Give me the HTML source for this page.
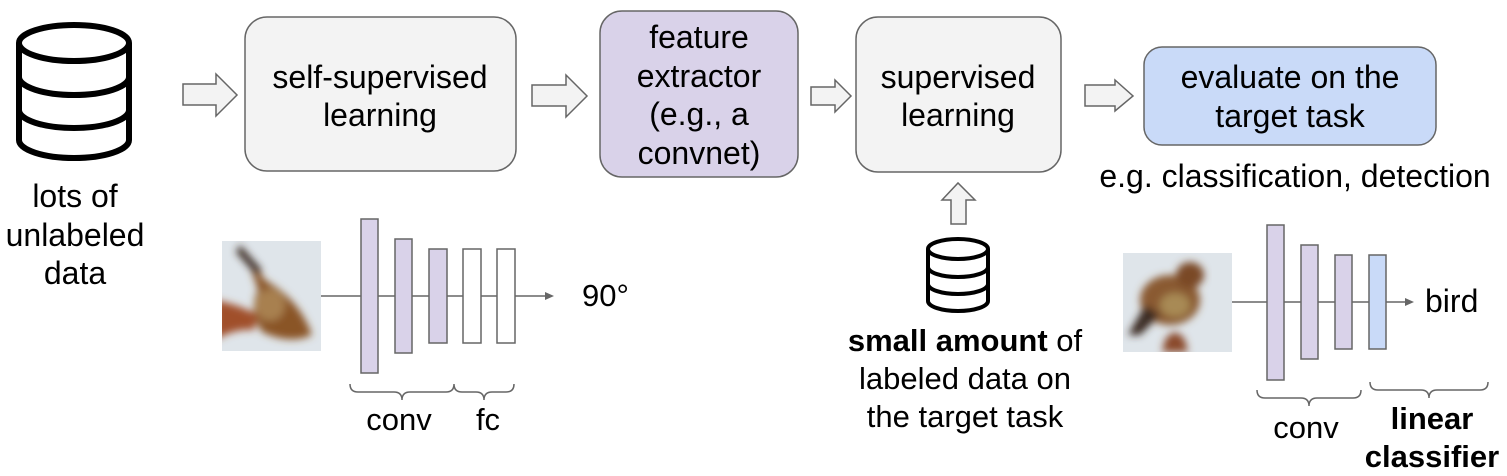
<!DOCTYPE html>
<html><head><meta charset="utf-8"><style>
html,body{margin:0;padding:0;background:#fff}
svg{display:block}
text{font-family:"Liberation Sans",Arial,sans-serif;fill:#000}
</style></head><body>
<svg width="1507" height="476" viewBox="0 0 1507 476" xmlns="http://www.w3.org/2000/svg">
<defs>
<filter id="bl" x="-10%" y="-10%" width="120%" height="120%"><feGaussianBlur stdDeviation="4"/></filter>
<clipPath id="c1"><rect x="222" y="241" width="99" height="110"/></clipPath>
<clipPath id="c2"><rect x="1123" y="253" width="109" height="99"/></clipPath>
</defs>
<!-- big cylinder -->
<g fill="none" stroke="#000" stroke-width="6">
<ellipse cx="74" cy="43" rx="55" ry="18"/>
<path d="M19 43 V140 A55 18 0 0 0 129 140 V43"/>
<path d="M19 77 A55 18 0 0 0 129 77"/>
<path d="M19 110 A55 18 0 0 0 129 110"/>
</g>
<text x="75" y="207" font-size="32" text-anchor="middle">lots of</text>
<text x="75" y="246" font-size="32" text-anchor="middle">unlabeled</text>
<text x="75" y="284" font-size="32" text-anchor="middle">data</text>
<!-- block arrows -->
<g fill="#f3f3f3" stroke="#666" stroke-width="1.5">
<polygon points="183,84 216,84 216,74 237,95 216,116 216,105 183,105"/>
<polygon points="532,85 566,85 566,75 587,96 566,117 566,106 532,106"/>
<polygon points="811,87 835,87 835,80 851,96 835,112 835,105 811,105"/>
<polygon points="1085,85 1115,85 1115,80 1133,96 1115,111 1115,106 1085,106"/>
<polygon points="951,224 951,200 942,200 958,183 975,200 966,200 966,224"/>
</g>
<!-- boxes -->
<rect x="245" y="17" width="271" height="154" rx="22" fill="#f3f3f3" stroke="#666" stroke-width="1.5"/>
<text x="380" y="88" font-size="32" text-anchor="middle">self-supervised</text>
<text x="380" y="126" font-size="32" text-anchor="middle">learning</text>
<rect x="600" y="11" width="198" height="166" rx="22" fill="#d9d2e9" stroke="#666" stroke-width="1.5"/>
<text x="699" y="48" font-size="32" text-anchor="middle">feature</text>
<text x="699" y="87" font-size="32" text-anchor="middle">extractor</text>
<text x="699" y="125" font-size="32" text-anchor="middle">(e.g., a</text>
<text x="699" y="164" font-size="32" text-anchor="middle">convnet)</text>
<rect x="856" y="17" width="205" height="155" rx="22" fill="#f3f3f3" stroke="#666" stroke-width="1.5"/>
<text x="958" y="88" font-size="32" text-anchor="middle">supervised</text>
<text x="958" y="126" font-size="32" text-anchor="middle">learning</text>
<rect x="1144" y="47" width="292" height="98" rx="18" fill="#c9daf8" stroke="#666" stroke-width="1.5"/>
<text x="1290" y="88" font-size="32" text-anchor="middle">evaluate on the</text>
<text x="1290" y="127" font-size="32" text-anchor="middle">target task</text>
<text x="1295" y="187" font-size="32" text-anchor="middle">e.g. classification, detection</text>
<!-- small cylinder -->
<g fill="none" stroke="#000" stroke-width="4">
<ellipse cx="958" cy="249" rx="30" ry="10"/>
<path d="M928 249 V301 A30 10 0 0 0 988 301 V249"/>
<path d="M928 267 A30 10 0 0 0 988 267"/>
<path d="M928 284 A30 10 0 0 0 988 284"/>
</g>
<text x="965" y="351" font-size="31" text-anchor="middle"><tspan font-weight="bold">small amount</tspan> of</text>
<text x="965" y="389" font-size="31" text-anchor="middle">labeled data on</text>
<text x="965" y="427" font-size="31" text-anchor="middle">the target task</text>
<!-- left network -->
<g clip-path="url(#c1)">
<rect x="222" y="241" width="99" height="110" fill="#dfe5ea"/>
<g filter="url(#bl)">
<path d="M245 250 L265 280 Q300 300 312 335 Q290 345 262 332 Q248 310 258 290 Z" fill="#8a5528"/>
<ellipse cx="270" cy="305" rx="15" ry="16" fill="#a88050"/>
<path d="M215 300 Q240 305 258 315 L254 330 Q235 328 215 340 Z" fill="#a0502c"/>
<path d="M240 245 L262 270 L256 275 L236 252 Z" fill="#3a2a20"/>
</g>
</g>
<line x1="321" y1="296" x2="546" y2="296" stroke="#666" stroke-width="1.5"/>
<polygon points="545,292 554,296 545,300" fill="#666"/>
<g stroke="#666" stroke-width="1.5">
<rect x="361" y="219" width="17" height="154" fill="#d9d2e9"/>
<rect x="395" y="239" width="17" height="114" fill="#d9d2e9"/>
<rect x="429" y="249" width="18" height="94" fill="#d9d2e9"/>
<rect x="463" y="249" width="18" height="94" fill="#fff"/>
<rect x="497" y="249" width="18" height="94" fill="#fff"/>
</g>
<path d="M350 384 q0 8 8 8 h36 q8 0 8 8 q0 -8 8 -8 h36 q8 0 8 -8 q0 8 8 8 h14 q8 0 8 8 q0 -8 8 -8 h14 q8 0 8 -8" fill="none" stroke="#666" stroke-width="1.5"/>
<text x="399" y="430" font-size="31" text-anchor="middle">conv</text>
<text x="488" y="430" font-size="31" text-anchor="middle">fc</text>
<text x="582" y="306" font-size="31">90°</text>
<!-- right network -->
<g clip-path="url(#c2)">
<rect x="1123" y="253" width="109" height="99" fill="#dfe5ea"/>
<g filter="url(#bl)">
<ellipse cx="1170" cy="300" rx="30" ry="25" fill="#8a5a30"/>
<ellipse cx="1190" cy="275" rx="14" ry="13" fill="#7a4a28"/>
<path d="M1145 305 L1128 335 L1140 335 L1160 315 Z" fill="#3a2a20"/>
<path d="M1165 340 Q1175 325 1185 340 L1188 352 L1162 352 Z" fill="#8a4a2a"/>
<ellipse cx="1175" cy="305" rx="15" ry="12" fill="#a88a55"/>
</g>
</g>
<line x1="1232" y1="302" x2="1405" y2="302" stroke="#666" stroke-width="1.5"/>
<polygon points="1405,298 1414,302 1405,306" fill="#666"/>
<g stroke="#666" stroke-width="1.5">
<rect x="1267" y="225" width="17" height="155" fill="#d9d2e9"/>
<rect x="1301" y="245" width="17" height="114" fill="#d9d2e9"/>
<rect x="1335" y="255" width="17" height="94" fill="#d9d2e9"/>
<rect x="1369" y="255" width="17" height="94" fill="#c9daf8"/>
</g>
<text x="1425" y="312" font-size="32">bird</text>
<path d="M1257 390 q0 8 8 8 h36 q8 0 8 8 q0 -8 8 -8 h36 q8 0 8 -8" fill="none" stroke="#666" stroke-width="1.5"/>
<path d="M1370 382 q0 8 8 8 h43 q8 0 8 8 q0 -8 8 -8 h43 q8 0 8 -8" fill="none" stroke="#666" stroke-width="1.5"/>
<text x="1306" y="438" font-size="31" text-anchor="middle">conv</text>
<text x="1432" y="429" font-size="31" font-weight="bold" text-anchor="middle">linear</text>
<text x="1432" y="467" font-size="31" font-weight="bold" text-anchor="middle">classifier</text>
</svg>
</body></html>
